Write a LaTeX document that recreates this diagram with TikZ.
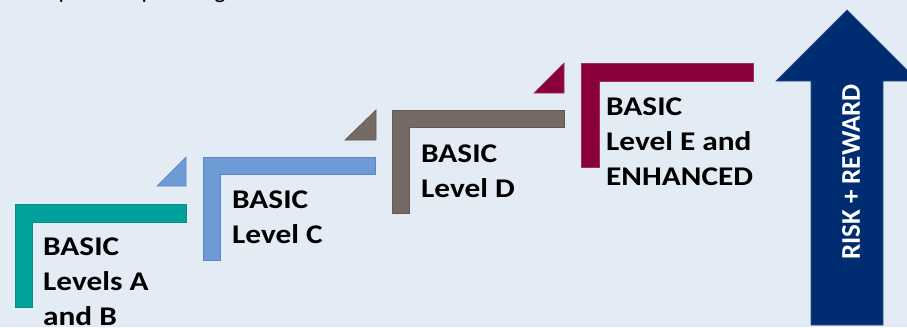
\documentclass[tikz,border=0pt]{standalone}
\usepackage{fontspec}
\setmainfont{Carlito}
\newfontfamily\lblfont[FakeStretch=1.16]{Carlito}
\definecolor{bgc}{HTML}{E3EBF5}
\definecolor{tealc}{HTML}{00A19A}
\definecolor{tealo}{HTML}{0B8C86}
\definecolor{bluec}{HTML}{6E9AD6}
\definecolor{blueo}{HTML}{5A86C4}
\definecolor{brownc}{HTML}{766A65}
\definecolor{browno}{HTML}{635855}
\definecolor{maroonc}{HTML}{8A003C}
\definecolor{maroono}{HTML}{9A3060}
\definecolor{navyc}{HTML}{002D72}
\definecolor{navyo}{HTML}{2A4F88}
\tikzset{
  lshape/.style={line width=0.7pt},
  lbl/.style={anchor=north west, inner sep=0pt, align=left,
    font=\lblfont\fontsize{27}{35}\selectfont\bfseries, text=black},
  toptxt/.style={anchor=base, inner sep=0pt, font=\fontsize{24}{28}\selectfont, text=black}
}
\begin{document}
\begin{tikzpicture}[x=1pt,y=-1pt]
\useasboundingbox (0,0) rectangle (907,327);
\clip (0,0) rectangle (907,327);
\fill[bgc] (0,0) rectangle (907,327);
% cut-off text at top (only descenders visible in the reference)
\node[toptxt] (t1) at (65,-2) {p};
\node[toptxt] (t2) at (148,-2) {p};
\node[toptxt] (t3) at (220,-2) {g};
% step 1
\draw[lshape, fill=tealc, draw=tealo] (15,204) -- (186,204) -- (186,222) -- (32,222) -- (32,307) -- (15,307) -- cycle;
% step 2
\draw[lshape, fill=bluec, draw=blueo] (157,186) -- (186,157) -- (186,186) -- cycle;
\draw[lshape, fill=bluec, draw=blueo] (203,157) -- (375,157) -- (375,174) -- (220,174) -- (220,260) -- (203,260) -- cycle;
% step 3
\draw[lshape, fill=brownc, draw=browno] (345,140) -- (376,110) -- (376,140) -- cycle;
\draw[lshape, fill=brownc, draw=browno] (392,110) -- (564,110) -- (564,127) -- (409,127) -- (409,213) -- (392,213) -- cycle;
% step 4
\draw[lshape, fill=maroonc, draw=maroono] (534,93) -- (564,63) -- (564,93) -- cycle;
\draw[lshape, fill=maroonc, draw=maroono] (581,63) -- (753,63) -- (753,81) -- (599,81) -- (599,167) -- (581,167) -- cycle;
% labels
\node[lbl] (labA) at (43,238) {BASIC\\Levels A\\and B};
\node[lbl] (labC) at (232,191) {BASIC\\Level C};
\node[lbl] (labD) at (421,145) {BASIC\\Level D};
\node[lbl] (labE) at (606,98) {BASIC\\Level E and\\ENHANCED};
% arrow
\draw[lshape, fill=navyc, draw=navyo] (811,325) -- (811,81) -- (776,81) -- (847,10) -- (918,81) -- (883,81) -- (883,325) -- cycle;
\node[rotate=90, inner sep=0pt, text=white, font=\fontsize{27}{32}\selectfont\bfseries] (risk) at (851,172) {RISK + REWARD};
\end{tikzpicture}
\end{document}
